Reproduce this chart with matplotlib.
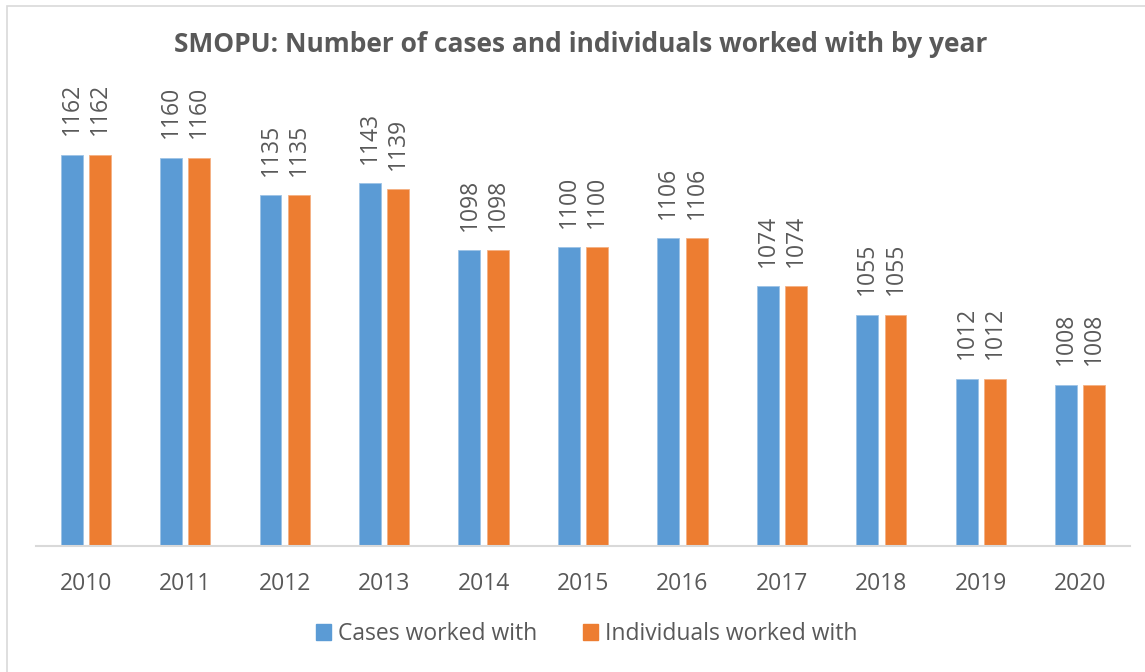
import numpy as np
import matplotlib
matplotlib.use('Agg')
import matplotlib.pyplot as plt
from matplotlib.patches import Rectangle, Patch

years = ['2010', '2011', '2012', '2013', '2014', '2015', '2016', '2017', '2018', '2019', '2020']
cases = [1162, 1160, 1135, 1143, 1098, 1100, 1106, 1074, 1055, 1012, 1008]
individuals = [1162, 1160, 1135, 1139, 1098, 1100, 1106, 1074, 1055, 1012, 1008]

blue = '#5B9BD5' #excel blue
orange = '#ED7D31' #excel orange
grey_text = '#595959'

plt.rcParams['font.family'] = ['Open Sans', 'DejaVu Sans']

fig = plt.figure(figsize=(11.45, 6.72), dpi=100)
fig.patches.append(Rectangle((7/1145, -0.1), 1.2, 1 - 6/672 + 0.1, transform=fig.transFigure,
                             fill=False, edgecolor='#D9D9D9', linewidth=1.2)) #chart border

ax = fig.add_axes([36/1145, 1 - 546/672, 1094/1145, 448/672])

x = np.arange(len(years))
w = 0.22
off = 0.142
b1 = ax.bar(x - off, cases, w, color=blue, edgecolor='#9DC3E6', linewidth=0.6, label='Cases worked with')
b2 = ax.bar(x + off, individuals, w, color=orange, edgecolor='#F4B183', linewidth=0.6, label='Individuals worked with')

for bars, vals in [(b1, cases), (b2, individuals)]:
    for bar, v in zip(bars, vals):
        ax.annotate(str(v), (bar.get_x() + bar.get_width()/2, v), xytext=(0, 14), textcoords='offset points',
                    rotation=90, ha='center', va='bottom', fontsize=16.5, color=grey_text, annotation_clip=False)

ax.set_ylim(900, 1200)
ax.set_xlim(-0.5, len(years) - 0.5)
ax.set_xticks(x)
ax.set_xticklabels(years, fontsize=16.5, color=grey_text)
ax.tick_params(axis='x', length=0, pad=19)
ax.set_yticks([])
for s in ['top', 'right', 'left']:
    ax.spines[s].set_visible(False)
ax.spines['bottom'].set_color('#D9D9D9')
ax.spines['bottom'].set_linewidth(1.5)

fig.text(0.5 + 8/1145, 1 - 45/672, 'SMOPU: Number of cases and individuals worked with by year',
         ha='center', va='center', fontsize=19, fontweight='bold', color=grey_text)

handles = [Patch(color=blue), Patch(color=orange)]
fig.legend(handles, ['Cases worked with', 'Individuals worked with'], loc='center',
           bbox_to_anchor=(587/1145, 1 - 634/672), ncol=2, frameon=False, fontsize=16.5,
           labelcolor=grey_text, handlelength=0.65, handleheight=0.65, handletextpad=0.3, columnspacing=2.0)

fig.savefig('out.png', dpi=100)
